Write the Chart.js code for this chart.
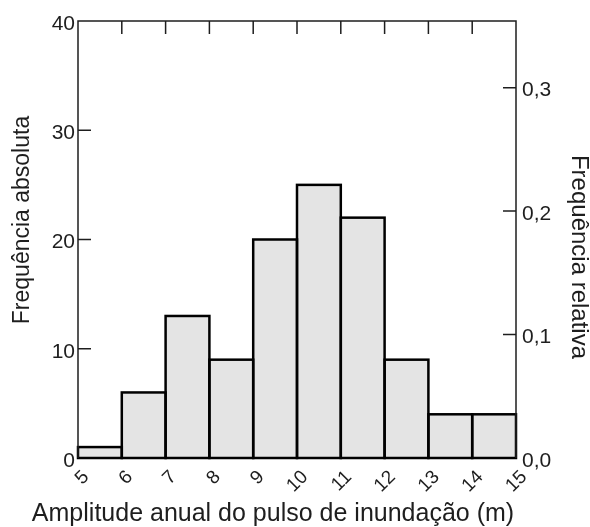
<!DOCTYPE html>
<html>
<head>
<meta charset="utf-8">
<script src="https://cdn.jsdelivr.net/npm/chart.js@4.4.1/dist/chart.umd.min.js"></script>
<style>
  html, body { margin: 0; padding: 0; background: #fff; }
  #histChart { display: block; }
</style>
</head>
<body>
<canvas id="histChart" width="590" height="527"></canvas>
<script>
// histogram bins (left edges, width 1 m) and absolute counts
const binStarts = [5, 6, 7, 8, 9, 10, 11, 12, 13, 14];
const absCounts = [1, 6, 13, 9, 20, 25, 22, 9, 4, 4];

const xTickValues = [5, 6, 7, 8, 9, 10, 11, 12, 13, 14, 15];
const absTickValues = [0, 10, 20, 30, 40];
const relTickValues = [0, 0.1, 0.2, 0.3];

const xTitle = "Amplitude anual do pulso de inundação (m)";
const yTitle = "Frequência absoluta";
const y2Title = "Frequência relativa";

const total = absCounts.reduce((sum, v) => sum + v, 0);
const ink = "#1e1e1e";
const fontFamily = "'Liberation Sans', Arial, sans-serif";

function useTicks(values) {
  return (scale) => {
    scale.ticks = values.map((value) => ({ value }));
  };
}

// frame, inward tick marks, bar outlines and axis titles
const framePlugin = {
  id: "frame",
  afterDatasetsDraw(chart) {
    const { ctx, chartArea: area, scales } = chart;
    ctx.save();

    ctx.strokeStyle = "#000";
    ctx.lineWidth = 2.5;
    chart.getDatasetMeta(0).data.forEach((bar) => {
      const { x, y, base, width } = bar.getProps(["x", "y", "base", "width"], true);
      ctx.strokeRect(x - width / 2, y, width, base - y);
    });

    const tickLen = 13;
    ctx.strokeStyle = ink;
    ctx.lineWidth = 1.5;
    ctx.beginPath();
    ctx.moveTo(area.left, area.bottom);
    ctx.lineTo(area.left, area.top);
    ctx.lineTo(area.right, area.top);
    ctx.lineTo(area.right, area.bottom);
    xTickValues.slice(1, -1).forEach((v) => {
      const px = scales.x.getPixelForValue(v);
      ctx.moveTo(px, area.top);
      ctx.lineTo(px, area.top + tickLen);
    });
    absTickValues.slice(1, -1).forEach((v) => {
      const py = scales.y.getPixelForValue(v);
      ctx.moveTo(area.left, py);
      ctx.lineTo(area.left + tickLen, py);
    });
    relTickValues.slice(1).forEach((v) => {
      const py = scales.y2.getPixelForValue(v);
      ctx.moveTo(area.right, py);
      ctx.lineTo(area.right - tickLen, py);
    });
    ctx.stroke();

    ctx.fillStyle = ink;
    ctx.textAlign = "center";
    ctx.textBaseline = "alphabetic";

    ctx.font = `25px ${fontFamily}`;
    ctx.fillText(xTitle, 273, 521);

    ctx.save();
    ctx.translate(29, 220);
    ctx.rotate(-Math.PI / 2);
    ctx.font = `23px ${fontFamily}`;
    ctx.fillText(yTitle, 0, 0);
    ctx.restore();

    ctx.save();
    ctx.translate(572, 257);
    ctx.rotate(Math.PI / 2);
    ctx.font = `24px ${fontFamily}`;
    ctx.fillText(y2Title, 0, 0);
    ctx.restore();

    ctx.restore();
  },
};

new Chart(document.querySelector("#histChart"), {
  type: "bar",
  data: {
    datasets: [
      {
        data: binStarts.map((start, i) => ({ x: start + 0.5, y: absCounts[i] })),
        backgroundColor: "#e4e4e4",
        borderWidth: 0,
        barPercentage: 1,
        categoryPercentage: 1,
        yAxisID: "y",
      },
    ],
  },
  options: {
    responsive: false,
    animation: false,
    devicePixelRatio: 1,
    layout: { padding: { top: 21, left: 0, right: 0, bottom: 0 } },
    plugins: { legend: { display: false }, tooltip: { enabled: false } },
    scales: {
      x: {
        type: "linear",
        offset: false,
        min: 5,
        max: 15,
        afterBuildTicks: useTicks(xTickValues),
        afterFit: (scale) => { scale.height = 69; },
        grid: { display: false, drawTicks: false, offset: false },
        border: { display: false },
        ticks: {
          autoSkip: false,
          minRotation: 45,
          maxRotation: 45,
          padding: 8,
          labelOffset: 8,
          color: ink,
          font: { family: fontFamily, size: 19 },
        },
      },
      y: {
        position: "left",
        min: 0,
        max: 40,
        afterBuildTicks: useTicks(absTickValues),
        afterFit: (scale) => { scale.width = 78; },
        grid: { display: false, drawTicks: false },
        border: { display: false },
        ticks: {
          padding: 3,
          labelOffset: 3,
          color: ink,
          font: { family: fontFamily, size: 21 },
        },
      },
      y2: {
        position: "right",
        display: true,
        min: 0,
        max: 40 / total,
        afterBuildTicks: useTicks(relTickValues),
        afterFit: (scale) => { scale.width = 74; },
        grid: { display: false, drawTicks: false },
        border: { display: false },
        ticks: {
          padding: 6,
          labelOffset: 3,
          color: ink,
          font: { family: fontFamily, size: 21 },
          callback: (v) => v.toFixed(1).replace(".", ","),
        },
      },
    },
  },
  plugins: [framePlugin],
});
</script>
</body>
</html>
